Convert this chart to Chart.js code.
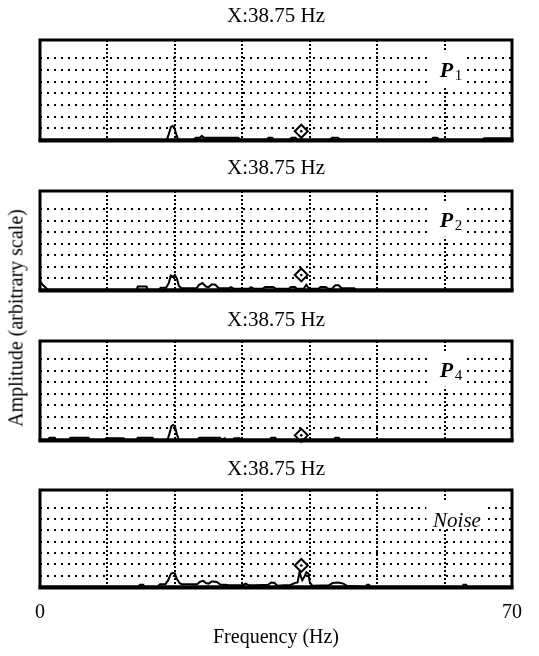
<!DOCTYPE html>
<html><head><meta charset="utf-8">
<script src="https://cdn.jsdelivr.net/npm/chart.js@4.4.1/dist/chart.umd.min.js"></script>
<style>
html,body{margin:0;padding:0;background:#fff;}
#wrap{position:relative;width:539px;height:656px;overflow:hidden;background:#fff;}
canvas{position:absolute;left:0;}
#ylab{position:absolute;left:16px;top:318px;transform:translate(-50%,-50%) rotate(-90deg);white-space:nowrap;font:20px 'Liberation Serif',serif;color:#000;}
</style></head><body>
<div id="wrap">
<canvas id="p1" width="539" height="150" style="top:0px"></canvas>
<canvas id="p2" width="539" height="150" style="top:150px"></canvas>
<canvas id="p3" width="539" height="150" style="top:300px"></canvas>
<canvas id="p4" width="539" height="206" style="top:450px"></canvas>
<div id="ylab">Amplitude (arbitrary scale)</div>
</div>
<script>
// ---- data ----
const cursorFreq = 38.75;
const cursorTitle = 'X:38.75 Hz';
const xTickLabels = [0, 70];
const panelNames = ['P', 'P', 'P', 'Noise'];
const panelSubs = ['1', '2', '4', ''];
const cursorAmp = [0.75, 1.3, 0.4, 1.9];

const freqP1 = [0, 18.8, 19.1, 19.4, 19.65, 19.9, 20.2, 20.5, 22.8, 23.1, 23.7, 24.0, 24.3, 29.4, 29.7, 33.6, 33.9, 34.4, 34.7, 37.0, 37.3, 37.9, 38.2, 43.0, 43.3, 44.2, 44.5, 58.0, 58.3, 58.9, 59.2, 65.6, 65.9, 70];
const ampP1  = [0, 0, 0.5, 1.1, 1.2, 1.1, 0.5, 0, 0, 0.2, 0.2, 0.35, 0.2, 0.2, 0, 0, 0.2, 0.2, 0, 0, 0.2, 0.2, 0, 0, 0.2, 0.2, 0, 0, 0.2, 0.2, 0, 0, 0.15, 0.15];

const freqP2 = [0, 0.4, 1.2, 14.3, 14.5, 15.8, 16.0, 17.6, 17.9, 18.7, 19.1, 19.4, 19.7, 20.0, 20.3, 20.6, 21.0, 23.2, 23.6, 24.1, 24.6, 25.0, 25.5, 26.0, 26.5, 28.0, 28.3, 28.8, 31.0, 31.3, 31.8, 33.0, 33.4, 34.6, 35.0, 36.9, 37.2, 37.8, 38.1, 39.1, 39.5, 39.9, 41.3, 41.6, 42.4, 42.7, 43.3, 43.8, 44.3, 44.7, 46.6, 46.9, 70];
const ampP2  = [0.75, 0.45, 0, 0, 0.3, 0.3, 0, 0, 0.2, 0.2, 0.6, 1.25, 1.15, 1.3, 1.0, 0.35, 0.15, 0.15, 0.45, 0.6, 0.3, 0.25, 0.5, 0.45, 0.15, 0.15, 0.25, 0.1, 0.1, 0.25, 0.1, 0.1, 0.25, 0.25, 0.1, 0.1, 0.25, 0.25, 0.1, 0.1, 0.45, 0.1, 0.1, 0.25, 0.25, 0.1, 0.1, 0.4, 0.4, 0.15, 0.15, 0, 0];

const freqP4 = [0, 1.2, 1.4, 2.2, 2.4, 4.3, 4.5, 7.2, 7.4, 9.6, 9.8, 12.4, 12.6, 14.3, 14.5, 16.7, 16.9, 18.9, 19.2, 19.5, 19.75, 20.0, 20.3, 20.6, 23.4, 23.6, 26.7, 26.9, 27.4, 27.6, 28.6, 28.8, 29.6, 29.8, 34.1, 34.3, 34.9, 35.1, 43.6, 43.8, 44.3, 44.5, 70];
const ampP4  = [0, 0, 0.2, 0.2, 0, 0, 0.2, 0.2, 0, 0, 0.15, 0.15, 0, 0, 0.2, 0.2, 0, 0, 0.55, 1.2, 1.3, 1.2, 0.5, 0, 0, 0.2, 0.2, 0, 0.15, 0, 0, 0.15, 0.15, 0, 0, 0.2, 0.2, 0, 0, 0.2, 0.2, 0, 0];

const freqNoise = [0, 14.6, 14.8, 15.3, 15.5, 17.4, 17.8, 18.6, 19.0, 19.4, 19.7, 20.0, 20.3, 20.7, 21.0, 23.3, 23.7, 24.2, 24.6, 25.0, 25.5, 26.2, 26.8, 27.5, 28.0, 30.0, 30.5, 31.0, 32.0, 33.8, 34.3, 34.8, 35.2, 36.2, 37.0, 37.8, 38.2, 38.5, 38.7, 38.9, 39.2, 39.5, 39.8, 40.0, 40.3, 40.6, 42.8, 43.4, 44.2, 45.0, 45.5, 48.3, 48.5, 48.8, 49.0, 62.6, 62.8, 63.2, 63.4, 70];
const ampNoise  = [0, 0, 0.2, 0.2, 0, 0, 0.25, 0.25, 0.6, 1.15, 1.25, 1.2, 0.7, 0.35, 0.25, 0.25, 0.45, 0.55, 0.35, 0.3, 0.5, 0.45, 0.2, 0.2, 0.15, 0.15, 0.3, 0.15, 0.15, 0.2, 0.4, 0.35, 0.1, 0.15, 0.15, 0.35, 0.4, 1.35, 0.9, 0.6, 0.9, 1.3, 1.2, 0.45, 0.15, 0.1, 0.15, 0.35, 0.4, 0.3, 0.1, 0, 0.2, 0.2, 0, 0, 0.2, 0.2, 0, 0];

// ---- drawing ----
const SERIF = "'Liberation Serif', 'Times New Roman', serif";
const Y_MAX = 8.55;
Chart.defaults.color = '#000';

const framePlugin = {
  id: 'frame',
  afterDatasetsDraw(chart, args, o) {
    const {ctx, chartArea: a, scales: {x, y}} = chart;
    ctx.save();
    // label with white background
    const isNoise = o.sub === '';
    const rx0 = x.getPixelForValue(isNoise ? 57.3 : 57.7), rx1 = x.getPixelForValue(isNoise ? 65.8 : 62.6);
    const ry0 = y.getPixelForValue(isNoise ? 7.5 : 7.6), ry1 = y.getPixelForValue(isNoise ? 5.15 : 4.6);
    ctx.fillStyle = '#fff';
    ctx.fillRect(rx0, ry0, rx1 - rx0, ry1 - ry0);
    ctx.fillStyle = '#000';
    ctx.textBaseline = 'alphabetic';
    ctx.textAlign = 'left';
    if (isNoise) {
      ctx.font = 'italic 21px ' + SERIF;
      ctx.fillText(o.name, x.getPixelForValue(58.3), y.getPixelForValue(5.3));
    } else {
      const tx = x.getPixelForValue(59.3);
      const ty = y.getPixelForValue(5.4);
      ctx.font = 'italic bold 22px ' + SERIF;
      ctx.fillText(o.name, tx, ty);
      const w = ctx.measureText(o.name).width;
      ctx.font = '15px ' + SERIF;
      ctx.fillText(o.sub, tx + w + 1.5, ty + 3);
    }
    // frame
    ctx.strokeStyle = '#000';
    ctx.lineWidth = 3;
    ctx.strokeRect(a.left, a.top, a.right - a.left, a.bottom - a.top);
    ctx.lineWidth = 4;
    ctx.beginPath();
    ctx.moveTo(a.left - 1.5, a.bottom + 0.5);
    ctx.lineTo(a.right + 1.5, a.bottom + 0.5);
    ctx.stroke();
    ctx.restore();
  }
};

function makePanel(id, freq, amp, idx, cfg) {
  const trace = freq.map((f, i) => ({x: f, y: amp[i]}));
  const cursor = [{x: cursorFreq, y: cursorAmp[idx]}];
  const last = !!cfg.showX;
  new Chart(document.getElementById(id), {
    type: 'line',
    data: {datasets: [
      {data: trace, borderColor: '#000', borderWidth: 2, pointRadius: 0, tension: 0, fill: false, order: 2},
      {data: cursor, showLine: false, pointStyle: 'rectRot', pointRadius: 6.5, pointBorderWidth: 2,
       pointBorderColor: '#000', pointBackgroundColor: '#fff', clip: false, order: 1},
      {data: cursor, showLine: false, pointStyle: 'circle', pointRadius: 1.3, pointBorderWidth: 0,
       pointBackgroundColor: '#000', clip: false, order: 0}
    ]},
    options: {
      responsive: false, animation: false, events: [],
      layout: {padding: {left: 40, right: 27, top: 0, bottom: cfg.padBottom}, autoPadding: false},
      plugins: {
        legend: {display: false}, tooltip: {enabled: false},
        title: {display: true, text: cursorTitle, color: '#000',
                font: {family: SERIF, size: 21, weight: 'normal'},
                padding: {top: cfg.tTop, bottom: cfg.tBottom}},
        frame: {name: panelNames[idx], sub: panelSubs[idx]}
      },
      scales: {
        x: {type: 'linear', min: 0, max: 70,
            ticks: {stepSize: 10, display: last, autoSkip: false, maxRotation: 0, color: '#000', padding: 14,
                    font: {family: SERIF, size: 20},
                    callback: v => xTickLabels.includes(v) ? String(v) : ''},
            grid: {color: '#000', lineWidth: 2, drawTicks: false},
            border: {display: false, dash: [2, 2]},
            title: {display: last, text: 'Frequency (Hz)', color: '#000',
                    font: {family: SERIF, size: 20}, padding: {top: -13, bottom: 2}}},
        y: {type: 'linear', min: 0, max: Y_MAX,
            ticks: {stepSize: 1, display: false},
            grid: {color: '#000', lineWidth: 2, drawTicks: false},
            border: {display: false, dash: [2, 5]}}
      }
    },
    plugins: [framePlugin]
  });
}

makePanel('p1', freqP1, ampP1, 0, {tTop: 4.0, tBottom: 10.8, padBottom: 10});
makePanel('p2', freqP2, ampP2, 1, {tTop: 6.0, tBottom: 9.8, padBottom: 10});
makePanel('p3', freqP4, ampP4, 2, {tTop: 8.0, tBottom: 7.8, padBottom: 10});
makePanel('p4', freqNoise, ampNoise, 3, {tTop: 7.0, tBottom: 7.8, padBottom: 4, showX: true});
</script>
</body></html>
